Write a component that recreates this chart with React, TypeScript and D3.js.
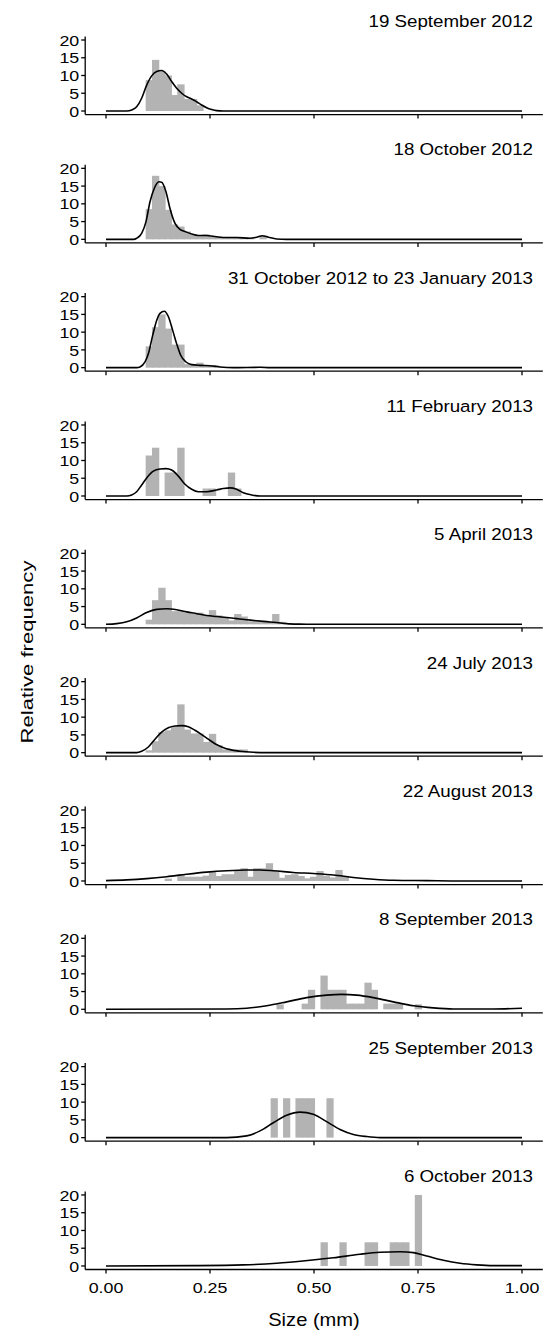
import React from "react";
import * as d3 from "d3";

const titles = [
  "19 September 2012",
  "18 October 2012",
  "31 October 2012 to 23 January 2013",
  "11 February 2013",
  "5 April 2013",
  "24 July 2013",
  "22 August 2013",
  "8 September 2013",
  "25 September 2013",
  "6 October 2013",
];

const binStart = [0.0965, 0.0965, 0.0965, 0.0965, 0.0965, 0.0965, 0.0965, 0.411, 0.397, 0.517];
const binWidth = [0.0152, 0.0152, 0.0152, 0.0152, 0.0152, 0.0152, 0.0152, 0.0151, 0.0149, 0.0151];

const binHeights: number[][] = [
  [8.7, 14.4, 11.2, 10.0, 4.5, 7.5, 3.4, 3.4, 1.6],
  [8.5, 17.9, 15.0, 8.3, 4.2, 3.6, 2.2, 1.2, 1.0, 1.4, 0.7, 0.7, 0.4, 0.4, 0.4, 0.4, 0.4, 0, 1.0],
  [6.0, 11.4, 15.0, 11.0, 6.5, 6.5, 1.0, 1.0, 1.4, 0.7, 0.7, 0, 0, 0, 0, 0, 0, 0, 0.3],
  [11.4, 13.6, 0, 6.6, 6.6, 13.6, 0, 0, 0, 2.1, 2.1, 0, 0, 6.6, 2.1],
  [1.3, 6.8, 10.3, 6.8, 3.7, 3.7, 3.3, 3.0, 3.3, 2.5, 4.0, 2.5, 2.0, 1.1, 2.9, 2.2, 0.85, 1.1, 0.7, 0.7, 2.9, 0.7],
  [0.66, 3.2, 5.8, 6.3, 7.4, 13.6, 6.5, 5.4, 5.4, 3.0, 5.3, 2.1, 0.9, 0.66, 0.9, 0.9],
  [0, 0, 0, 0.66, 0, 1.9, 1.2, 1.2, 1.2, 1.5, 2.8, 1.4, 1.9, 1.9, 3.1, 3.6, 1.2, 3.6, 3.6, 5.0, 2.8, 0.9, 1.7, 1.9, 1.4, 0.75, 1.2, 2.8, 1.4, 1.0, 3.1, 1.4],
  [1.4, 0, 0, 0, 1.6, 5.5, 0, 9.5, 5.5, 5.5, 5.5, 1.6, 1.6, 1.6, 7.5, 5.5, 0, 1.6, 1.6, 1.6, 0, 0, 1.4],
  [11.1, 0, 11.1, 0, 11.1, 11.1, 11.1, 0, 0, 11.1],
  [6.67, 0, 0, 6.67, 0, 0, 0, 6.67, 6.67, 0, 0, 6.67, 6.67, 6.67, 0, 20],
];

const densityCurves: [number, number][][] = [
  [[0, 0], [0.05, 0], [0.0617, 0.3], [0.0737, 1.2], [0.0857, 3.6], [0.0978, 7.3], [0.1098, 9.9], [0.1218, 11.1], [0.1338, 11.4], [0.1458, 10.4], [0.1579, 8.3], [0.1699, 6.4], [0.1819, 5.0], [0.1939, 4.0], [0.2059, 3.4], [0.2179, 2.6], [0.23, 1.7], [0.242, 0.9], [0.254, 0.4], [0.266, 0.1], [0.282, 0], [1, 0]],
  [[0, 0], [0.066, 0], [0.0737, 0.3], [0.0857, 1.7], [0.0962, 5.0], [0.1058, 10.6], [0.1162, 14.4], [0.1274, 16.2], [0.1338, 16.1], [0.1442, 13.4], [0.1538, 8.7], [0.1659, 4.5], [0.1779, 2.8], [0.1899, 2.2], [0.2059, 1.5], [0.222, 1.1], [0.242, 1.1], [0.258, 0.85], [0.2821, 0.5], [0.3141, 0.5], [0.3462, 0.3], [0.3622, 0.6], [0.3758, 1.0], [0.3902, 0.6], [0.4103, 0.1], [0.4343, 0], [1, 0]],
  [[0, 0], [0.0737, 0], [0.0817, 0.2], [0.0938, 1.6], [0.1018, 3.9], [0.1122, 9.1], [0.1218, 13.3], [0.1298, 15.3], [0.1402, 15.9], [0.1498, 14.4], [0.1603, 10.5], [0.1699, 6.7], [0.1795, 3.5], [0.1923, 1.6], [0.2059, 0.85], [0.226, 0.65], [0.25, 0.55], [0.274, 0.2], [0.3061, 0], [0.3702, 0.1], [0.3942, 0], [1, 0]],
  [[0, 0], [0.0497, 0], [0.0617, 0.3], [0.0737, 1.2], [0.0857, 3.1], [0.0978, 5.1], [0.1138, 7.0], [0.1298, 7.6], [0.1442, 7.7], [0.1579, 7.3], [0.1739, 5.6], [0.1899, 3.3], [0.2059, 1.9], [0.222, 1.2], [0.242, 1.2], [0.266, 1.7], [0.2821, 2.1], [0.2981, 2.3], [0.3141, 1.9], [0.3301, 0.9], [0.3502, 0.3], [0.3702, 0], [1, 0]],
  [[0, 0], [0.0256, 0.2], [0.0497, 0.7], [0.0737, 1.8], [0.0978, 3.3], [0.1218, 4.2], [0.1458, 4.4], [0.1699, 4.1], [0.1939, 3.5], [0.218, 3.0], [0.242, 2.5], [0.266, 2.2], [0.2901, 1.9], [0.3141, 1.6], [0.3381, 1.3], [0.3622, 1.0], [0.3862, 0.75], [0.4103, 0.5], [0.4343, 0.2], [0.4663, 0.05], [0.4984, 0], [1, 0]],
  [[0, 0], [0.0737, 0], [0.0857, 0.4], [0.1018, 1.6], [0.1178, 3.8], [0.1338, 5.8], [0.1498, 7.0], [0.1659, 7.5], [0.1819, 7.6], [0.1979, 7.3], [0.2139, 6.3], [0.23, 5.1], [0.246, 3.8], [0.262, 2.5], [0.278, 1.6], [0.2981, 0.85], [0.3221, 0.4], [0.3542, 0.1], [0.3862, 0], [1, 0]],
  [[0, 0.1], [0.0497, 0.3], [0.0978, 0.66], [0.1458, 1.2], [0.1939, 1.9], [0.242, 2.5], [0.2901, 2.9], [0.3381, 3.1], [0.3702, 3.1], [0.4022, 2.9], [0.4503, 2.4], [0.4984, 2.1], [0.5465, 1.7], [0.5946, 1.0], [0.6426, 0.5], [0.6907, 0.2], [0.7708, 0.1], [0.851, 0], [1, 0]],
  [[0, 0], [0.2901, 0.1], [0.3381, 0.3], [0.3862, 1.0], [0.4343, 2.1], [0.4824, 3.3], [0.5304, 4.0], [0.5665, 4.2], [0.6026, 4.0], [0.6426, 3.3], [0.6907, 2.1], [0.7388, 1.0], [0.7869, 0.4], [0.8349, 0.1], [0.9311, 0.1], [1, 0.3]],
  [[0, 0], [0.2901, 0], [0.3381, 0.5], [0.3702, 1.9], [0.4022, 4.2], [0.4343, 6.3], [0.4663, 7.2], [0.4984, 6.6], [0.5304, 4.5], [0.5625, 2.3], [0.5946, 0.9], [0.6266, 0.3], [0.6587, 0], [1, 0]],
  [[0, 0], [0.2099, 0.1], [0.3301, 0.3], [0.4103, 0.75], [0.4904, 1.6], [0.5465, 2.3], [0.6106, 3.3], [0.6587, 3.85], [0.7067, 4.0], [0.7388, 3.75], [0.7708, 2.8], [0.8109, 1.6], [0.851, 0.75], [0.891, 0.3], [0.9311, 0.1], [1, 0.1]],
];

const yTicks = [0, 5, 10, 15, 20];
const xTicks = [0, 0.25, 0.5, 0.75, 1.0];
const xTickLabels = ["0.00", "0.25", "0.50", "0.75", "1.00"];

const W = 544;
const H = 1330;
const FONT = "'Liberation Sans', Arial, Helvetica, sans-serif";
const SX = 1.15;
const BAR = "#b3b3b3";

function Txt({ x, y, anchor, size, children, extra = "" }: any) {
  return (
    <text
      transform={`translate(${x},${y}) scale(${SX},1)${extra}`}
      textAnchor={anchor}
      fontSize={size}
      fontFamily={FONT}
      fill="#000"
    >
      {children}
    </text>
  );
}

export default function App() {
  const x = d3.scaleLinear().domain([0, 1]).range([106, 522]);
  const panelStep = 128.33;
  const zero0 = 111;
  const unit = 3.55;
  const line = d3.curveMonotoneX;

  return (
    <svg width={W} height={H} style={{ display: "block", position: "absolute", left: 0, top: 0 }}>
      <rect width={W} height={H} fill="#fff" />
      {titles.map((t, i) => {
        const z = zero0 + panelStep * i;
        const y = d3.scaleLinear().domain([0, 20]).range([z, z - 20 * unit]);
        const bars = binHeights[i]
          .map((h, k) => ({ x0: binStart[i] + k * binWidth[i], x1: binStart[i] + (k + 1) * binWidth[i], h }))
          .filter((b) => b.h > 0);
        const path = d3
          .line<[number, number]>()
          .x((d) => x(d[0]))
          .y((d) => y(d[1]))
          .curve(line)(densityCurves[i]);
        const axisY = y(-1);
        const isLast = i === titles.length - 1;
        return (
          <g key={i}>
            {bars.map((b, k) => (
              <rect
                key={k}
                x={x(b.x0) - 0.5}
                width={x(b.x1) - x(b.x0) + 1}
                y={y(b.h)}
                height={y(0) - y(b.h)}
                fill={BAR}
              />
            ))}
            <path d={path || ""} fill="none" stroke="#000" strokeWidth={1.6} />
            <line x1={x(-0.05)} x2={x(1.05)} y1={axisY} y2={axisY} stroke="#000" strokeWidth={1.3} />
            <line x1={x(-0.05)} x2={x(-0.05)} y1={y(21)} y2={axisY} stroke="#000" strokeWidth={1.3} />
            {xTicks.map((t2) => (
              <line key={t2} x1={x(t2)} x2={x(t2)} y1={axisY} y2={axisY + 4} stroke="#000" strokeWidth={1.3} />
            ))}
            {yTicks.map((t2) => (
              <g key={t2}>
                <line x1={x(-0.05) - 4} x2={x(-0.05)} y1={y(t2)} y2={y(t2)} stroke="#000" strokeWidth={1.3} />
                <Txt x={x(-0.05) - 6} y={y(t2) + 5.6} anchor="end" size={15.5}>
                  {t2}
                </Txt>
              </g>
            ))}
            <Txt x={533} y={y(20) - 13} anchor="end" size={16.3}>
              {t}
            </Txt>
            {isLast &&
              xTicks.map((t2, k) => (
                <Txt key={t2} x={x(t2)} y={axisY + 23} anchor="middle" size={15.5}>
                  {xTickLabels[k]}
                </Txt>
              ))}
          </g>
        );
      })}
      <Txt x={x(0.5)} y={1326} anchor="middle" size={17.5}>
        Size (mm)
      </Txt>
      <text
        transform="translate(33,652) rotate(-90) scale(1.3,1)"
        textAnchor="middle"
        fontSize={17}
        fontFamily={FONT}
        fill="#000"
      >
        Relative frequency
      </text>
    </svg>
  );
}
